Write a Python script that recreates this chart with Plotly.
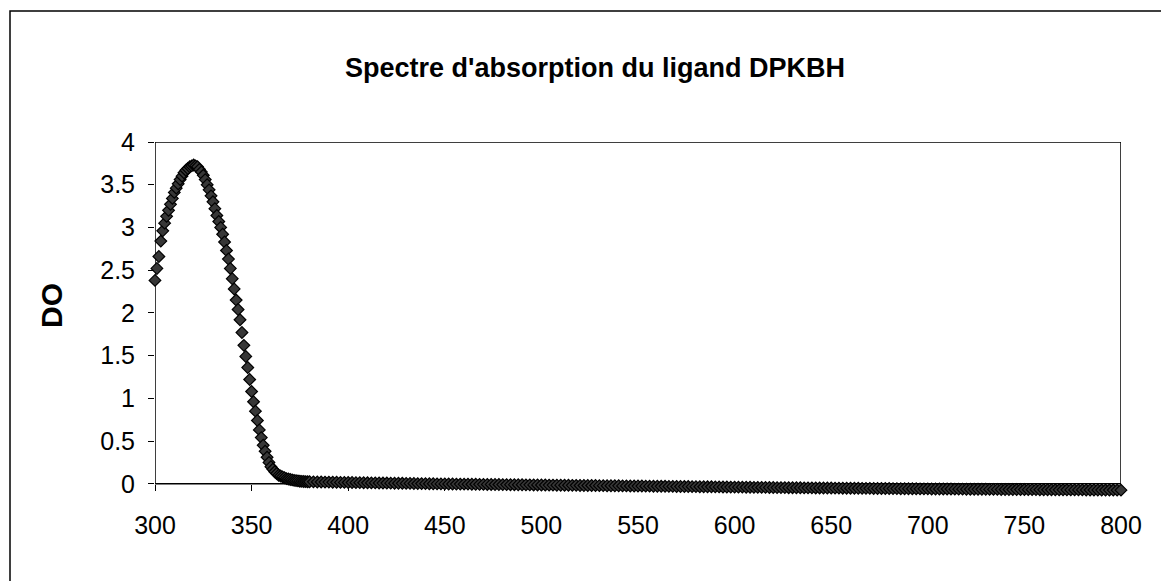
import plotly.graph_objects as go

# Wavelengths (nm): 1 nm steps over the band, 2 nm steps in the flat tail
wl_peak = list(range(300, 381))
wl_tail = list(range(382, 801, 2))

do_peak = [
    2.38, 2.52, 2.66, 2.84, 2.96, 3.05, 3.13, 3.20, 3.27, 3.34,
    3.41, 3.46, 3.51, 3.56, 3.60, 3.64, 3.67, 3.69, 3.71, 3.72,
    3.73, 3.72, 3.71, 3.68, 3.65, 3.61, 3.56, 3.50, 3.44, 3.37,
    3.30, 3.22, 3.14, 3.07, 3.00, 2.92, 2.83, 2.73, 2.63, 2.52,
    2.40, 2.28, 2.15, 2.04, 1.92, 1.77, 1.62, 1.49, 1.36, 1.22,
    1.08, 0.96, 0.85, 0.74, 0.63, 0.54, 0.45, 0.38, 0.31, 0.25,
    0.20, 0.17, 0.14, 0.12, 0.10, 0.09, 0.08, 0.07, 0.06, 0.055,
    0.05, 0.045, 0.04, 0.037, 0.034, 0.03, 0.028, 0.026, 0.025, 0.024,
    0.023,
]

do_tail = [
    0.022, 0.021, 0.020, 0.019, 0.019, 0.018, 0.017, 0.016, 0.016, 0.015,
    0.014, 0.013, 0.013, 0.012, 0.011, 0.010, 0.010, 0.009, 0.008, 0.008,
    0.007, 0.006, 0.006, 0.005, 0.004, 0.004, 0.003, 0.002, 0.002, 0.001,
    0.000, 0.000, -0.001, -0.002, -0.002, -0.003, -0.003, -0.004, -0.004, -0.005,
    -0.005, -0.006, -0.006, -0.007, -0.007, -0.008, -0.008, -0.009, -0.009, -0.010,
    -0.010, -0.011, -0.011, -0.012, -0.012, -0.013, -0.013, -0.014, -0.014, -0.015,
    -0.015, -0.016, -0.016, -0.017, -0.017, -0.018, -0.018, -0.019, -0.019, -0.020,
    -0.020, -0.021, -0.021, -0.021, -0.022, -0.022, -0.023, -0.023, -0.024, -0.024,
    -0.025, -0.025, -0.026, -0.026, -0.027, -0.027, -0.028, -0.028, -0.029, -0.029,
    -0.030, -0.030, -0.031, -0.031, -0.032, -0.032, -0.033, -0.033, -0.034, -0.034,
    -0.035, -0.035, -0.036, -0.036, -0.037, -0.037, -0.038, -0.038, -0.039, -0.039,
    -0.040, -0.040, -0.041, -0.041, -0.042, -0.042, -0.043, -0.043, -0.044, -0.044,
    -0.045, -0.045, -0.045, -0.046, -0.046, -0.047, -0.047, -0.048, -0.048, -0.048,
    -0.049, -0.049, -0.050, -0.050, -0.050, -0.051, -0.051, -0.052, -0.052, -0.052,
    -0.053, -0.053, -0.054, -0.054, -0.054, -0.055, -0.055, -0.056, -0.056, -0.056,
    -0.057, -0.057, -0.058, -0.058, -0.058, -0.059, -0.059, -0.060, -0.060, -0.060,
    -0.061, -0.061, -0.061, -0.062, -0.062, -0.062, -0.063, -0.063, -0.063, -0.064,
    -0.064, -0.064, -0.065, -0.065, -0.065, -0.066, -0.066, -0.066, -0.067, -0.067,
    -0.067, -0.068, -0.068, -0.068, -0.068, -0.069, -0.069, -0.069, -0.070, -0.070,
    -0.070, -0.070, -0.071, -0.071, -0.071, -0.071, -0.072, -0.072, -0.072, -0.072,
    -0.073, -0.073, -0.073, -0.073, -0.074, -0.074, -0.074, -0.074, -0.075, -0.075,
]

x_ticks = [300, 350, 400, 450, 500, 550, 600, 650, 700, 750, 800]
y_ticks = [0, 0.5, 1, 1.5, 2, 2.5, 3, 3.5, 4]
y_ticktext = ["0", "0.5", "1", "1.5", "2", "2.5", "3", "3.5", "4"]

title_text = "Spectre d'absorption du ligand DPKBH"
y_label = "DO"

wavelengths = wl_peak + wl_tail
absorbance = do_peak + do_tail

FONT = "Liberation Sans, Arial, sans-serif"

# The page body has an 8px default margin: size the figure to fill the window.
OFF = 8
W, H = 1169 - OFF, 581 - OFF
Y_MIN, Y_MAX = -0.12, 4.0
L, T = 155 - OFF, 142 - OFF
R = W - (1121 - OFF)
plot_bottom = 484 + (0 - Y_MIN) * 85.5 - OFF
B = H - plot_bottom
pw, ph = W - L - R, H - T - B


def px_x(p):
    return (p - OFF - L) / pw


def px_y(p):
    return (plot_bottom - (p - OFF)) / ph


fig = go.Figure()
fig.add_trace(go.Scatter(
    x=wavelengths, y=absorbance, mode="markers",
    marker=dict(symbol="diamond", size=9, color="rgb(55,55,55)",
                line=dict(color="black", width=1.2)),
    cliponaxis=False, showlegend=False,
))

axis_common = dict(
    showline=False, ticks="outside", ticklen=6, tickcolor="black", tickwidth=1,
    showgrid=False, zeroline=False, layer="below traces",
    tickfont=dict(family=FONT, size=25, color="black"),
)

fig.update_layout(
    width=W, height=H,
    margin=dict(l=L, r=R, t=T, b=B, autoexpand=False),
    paper_bgcolor="white", plot_bgcolor="white",
    xaxis=dict(range=[300, 800], tickvals=x_ticks, anchor="free",
               position=(0 - Y_MIN) / (Y_MAX - Y_MIN),
               ticklabelstandoff=13, **axis_common),
    yaxis=dict(range=[Y_MIN, Y_MAX], tickvals=y_ticks, ticktext=y_ticktext,
               ticklabelstandoff=8, **axis_common),
    annotations=[
        dict(text=f"<b>{title_text}</b>", xref="paper", yref="paper",
             x=px_x(595), y=px_y(68), xanchor="center", yanchor="middle",
             showarrow=False, font=dict(family=FONT, size=27, color="black")),
        dict(text=f"<b>{y_label}</b>", xref="paper", yref="paper",
             x=px_x(52), y=px_y(306), xanchor="center", yanchor="middle",
             textangle=-90, showarrow=False,
             font=dict(family=FONT, size=30, color="black")),
    ],
    shapes=[
        # plot frame
        dict(type="rect", xref="x", yref="y", x0=300, x1=800, y0=0, y1=4,
             line=dict(color="black", width=1.5), fillcolor="rgba(0,0,0,0)",
             layer="below"),
        # outer chart border
        dict(type="rect", xref="paper", yref="paper",
             x0=px_x(10), x1=px_x(1190), y0=px_y(600), y1=px_y(11),
             line=dict(color="black", width=1.5), fillcolor="rgba(0,0,0,0)",
             layer="below"),
    ],
)

fig.write_html("out.html")
